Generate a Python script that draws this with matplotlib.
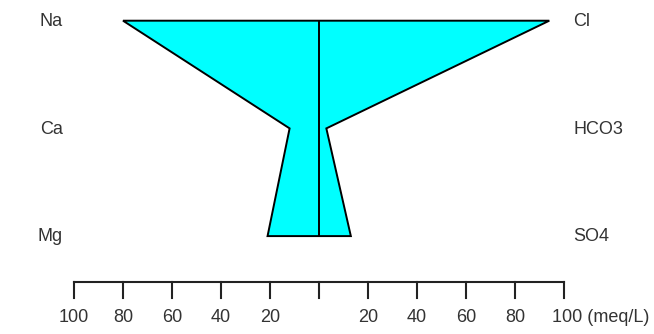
import matplotlib.pyplot as plt

# stiff diagram values (meq/L)
cations = ['Na', 'Ca', 'Mg']
cation_vals = [80, 12, 21]
anions = ['Cl', 'HCO3', 'SO4']
anion_vals = [94, 3, 13]

ticks = [-100, -80, -60, -40, -20, 0, 20, 40, 60, 80, 100]
tick_labels = ['100', '80', '60', '40', '20', '', '20', '40', '60', '80', '100 (meq/L)']

plt.rcParams['font.family'] = ['Liberation Sans', 'DejaVu Sans']
fs = 13
tc = '#333333'

fig = plt.figure(figsize=(6.54, 3.34), dpi=100)
ax = fig.add_axes([0, 0, 1, 1])
# 2.45 px per meq/L, 107.7 px per row
ax.set_xlim(-319 / 2.45, (654 - 319) / 2.45)
ax.set_ylim((334 - 20.7) / 107.7, -20.7 / 107.7)
ax.axis('off')

rows = list(range(len(cations)))
xs = [-v for v in cation_vals] + anion_vals[::-1]
ys = rows + rows[::-1]
ax.fill(xs, ys, facecolor='#00ffff', edgecolor='black', linewidth=1.4, joinstyle='miter')
ax.plot([0, 0], [rows[0], rows[-1]], color='black', linewidth=1.4)

for r, c, a in zip(rows, cations, anions):
    ax.text(-104.5, r + 0.05, c, ha='right', va='baseline', fontsize=fs, color=tc)
    ax.text(103.7, r + 0.05, a, ha='left', va='baseline', fontsize=fs, color=tc)

# scale bar
y_axis = 2.423
y_tick = 2.575
ax.plot([ticks[0], ticks[-1]], [y_axis, y_axis], color='#222222', linewidth=1.5)
for t, lab in zip(ticks, tick_labels):
    ax.plot([t, t], [y_axis, y_tick], color='#222222', linewidth=1.5)
    if lab.startswith('100 ('):
        ax.text(95.1, 2.80, lab, ha='left', va='baseline', fontsize=fs, color=tc)
    else:
        ax.text(t, 2.80, lab, ha='center', va='baseline', fontsize=fs, color=tc)

fig.savefig('out.png', dpi=100)
